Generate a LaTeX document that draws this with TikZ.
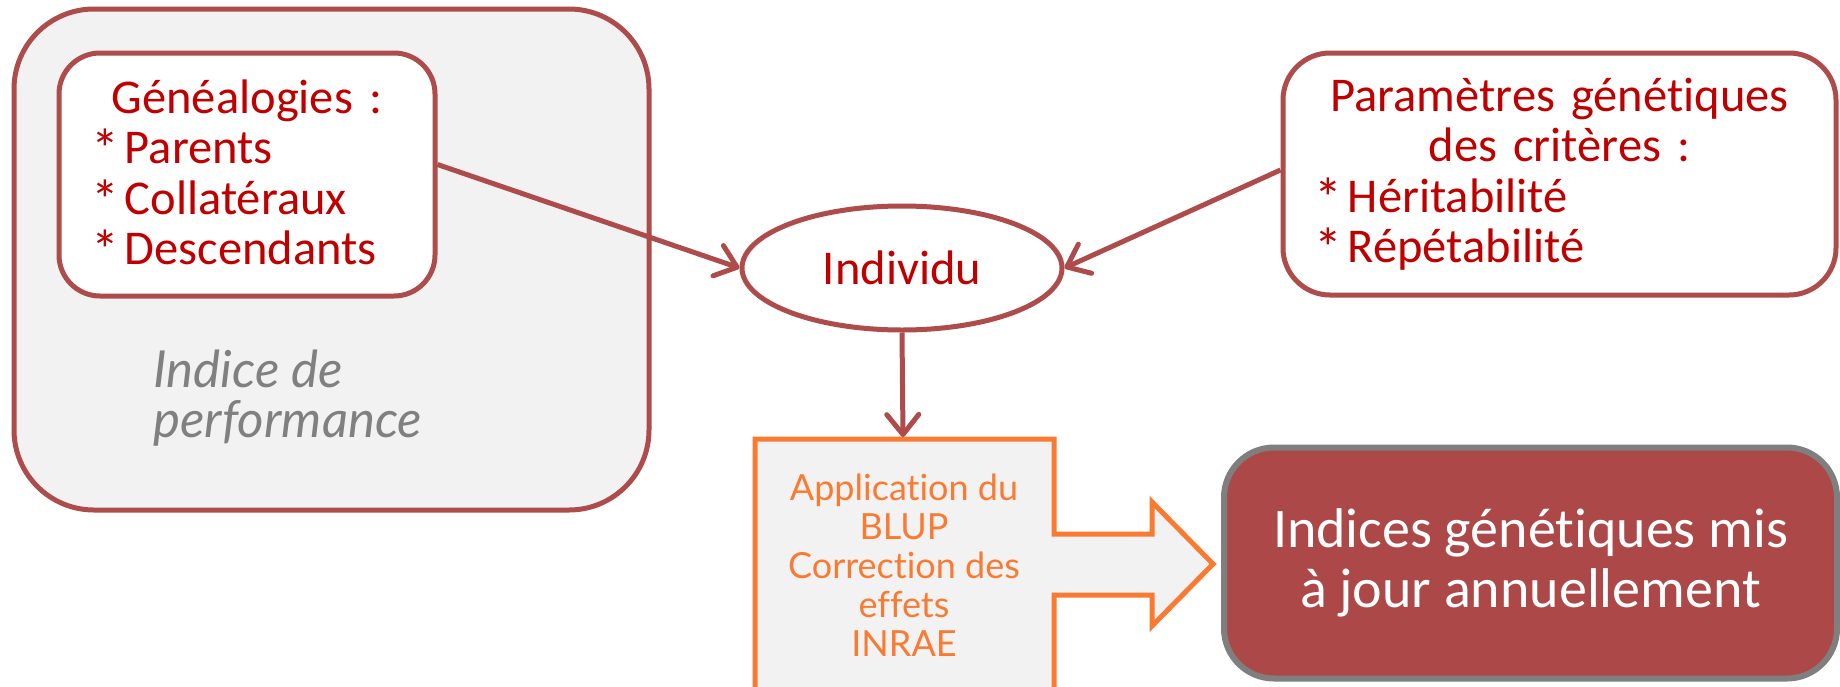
\documentclass[tikz,border=0pt]{standalone}
\usepackage{fontspec}
\usepackage{graphicx}
\setmainfont[Ligatures=NoCommon]{Carlito}
\newfontfamily\mar[Ligatures=NoCommon]{Lato}
\usetikzlibrary{arrows.meta,shapes.geometric}
\definecolor{bord}{HTML}{AE4B4B}
\definecolor{txtred}{HTML}{C00000}
\definecolor{lgray}{HTML}{F2F2F2}
\definecolor{orng}{HTML}{FA7A32}
\definecolor{fin}{HTML}{AD4848}
\definecolor{fingray}{HTML}{7F7F7F}
\definecolor{itgray}{HTML}{808080}
\newcommand{\bul}{\raisebox{-5pt}{\scalebox{1.15}{*}}\hspace{6pt}}
\begin{document}
\begin{tikzpicture}[x=1pt,y=-1pt,
  box/.style={draw=bord, line width=5pt, rectangle, inner sep=0pt},
  redtxt/.style={text=txtred, font=\fontsize{48.5}{50.5}\selectfont},
  arr/.style={draw=bord, line width=5pt, -{Straight Barb[length=20pt,width=32pt,round]}},
  orangebox/.style={draw=orng, fill=lgray, line width=5pt, line join=miter}]
\useasboundingbox (0,0) rectangle (1840,686);
\fill[white] (0,0) rectangle (1840,686);
% performance box
\node[box, fill=lgray, rounded corners=80pt, minimum width=635pt, minimum height=501pt] (perf) at (331.5,259.5) {};
\node[box, fill=white, rounded corners=41pt, minimum height=243pt, text width=312pt, inner xsep=32pt, align=left, redtxt] (gen) at (247,174.5)
  {\makebox[312pt]{Généalogies :}\\\bul Parents\\\bul Collatéraux\\\bul Descendants};
\node[anchor=west, align=left, text=itgray, font=\mar\itshape\fontsize{51}{50}\selectfont] (idx) at (150,398) {Indice de\\performance};
% parameters
\node[box, fill=white, rounded corners=47pt, minimum height=242pt, text width=491pt, inner xsep=31pt, align=left, redtxt] (params) at (1559.5,174)
  {\makebox[491pt]{Paramètres génétiques}\\\makebox[491pt]{des critères :}\\\bul Héritabilité\\\bul Répétabilité};
% individu
\node[draw=bord, line width=5pt, ellipse, fill=white, minimum width=320pt, minimum height=124pt, inner sep=0pt, redtxt] (ind) at (902,268) {Individu};
% orange block arrow
\draw[orangebox] (755,700) -- (755,439) -- (1054,439) -- (1054,534) -- (1152,534) -- (1152,502) -- (1213,564) -- (1152,626) -- (1152,595) -- (1054,595) -- (1054,700);
\coordinate (blupTop) at (903,437);
\node[align=center, text=orng, font=\mar\fontsize{36}{39}\selectfont] (blup) at (904,565) {Application du\\BLUP\\Correction des\\effets\\INRAE};
% final
\node[draw=fingray, line width=6pt, fill=fin, rounded corners=50pt, minimum width=613pt, minimum height=231pt, text=white, align=center, font=\fontsize{56}{60}\selectfont] (final) at (1530.5,563) {Indices génétiques mis\\à jour annuellement};
% connectors
\draw[arr] ([yshift=10pt]gen.east) -- (ind.west);
\draw[arr] ([yshift=4pt]params.west) -- (ind.east);
\draw[arr] (ind.south) -- (blupTop);
\end{tikzpicture}
\end{document}
